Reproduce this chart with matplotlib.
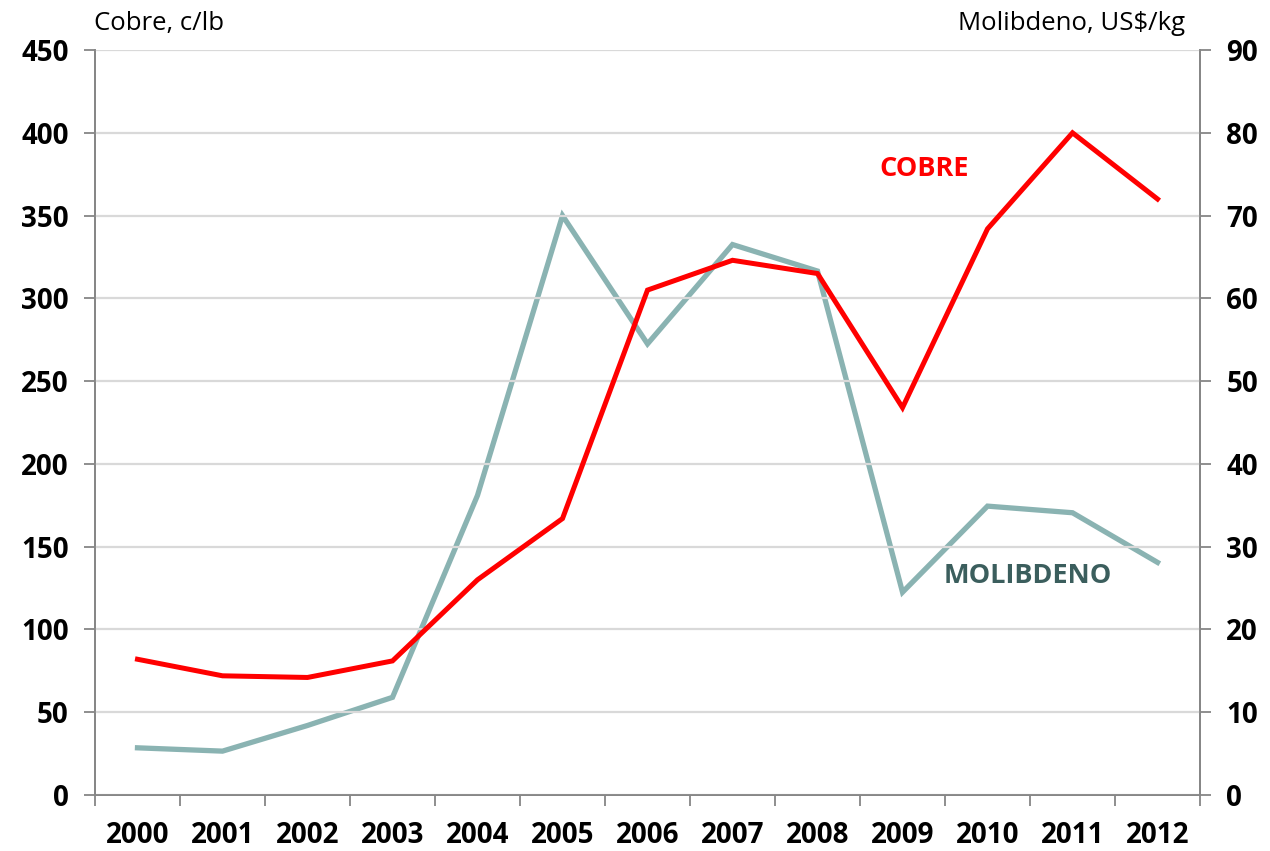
import matplotlib
matplotlib.use("Agg")
import matplotlib.pyplot as plt
import numpy as np

years = ["2000", "2001", "2002", "2003", "2004", "2005", "2006",
         "2007", "2008", "2009", "2010", "2011", "2012"]
cobre = [82, 72, 71, 81, 130, 167, 305, 323, 315, 234, 342, 400, 360]  # c/lb
molibdeno = [5.7, 5.3, 8.4, 11.8, 36.2, 70, 54.5, 66.5, 63.3, 24.5, 34.9, 34.1, 28.1]  # US$/kg

plt.rcParams["font.family"] = ["Open Sans", "DejaVu Sans"]

RED = "#ff0000"
TEAL = "#8ab3b2"
DARK_TEAL = "#3b5e5d"
AXIS = "#868686"
GRID = "#d9d9d9"

fig = plt.figure(figsize=(12.7, 8.51), dpi=100)
ax = fig.add_axes([0.0748, 0.0658, 0.8701, 0.8754])
ax2 = ax.twinx()

x = np.arange(len(years))

ax.set_xlim(-0.5, len(years) - 0.5)
ax.set_ylim(0, 450)
ax.set_yticks(range(0, 451, 50))
ax2.set_ylim(0, 90)
ax2.set_yticks(range(0, 91, 10))

ax.grid(axis="y", color=GRID, linewidth=1.6)
ax.set_axisbelow(True)

ax2.plot(x, molibdeno, color=TEAL, linewidth=3.8, solid_joinstyle="miter", zorder=2)
ax.plot(x, cobre, color=RED, linewidth=3.6, solid_joinstyle="miter", zorder=3)
ax.set_zorder(ax2.get_zorder() + 1)
ax.patch.set_visible(False)

# category axis: tick marks between categories, labels at centers
ax.set_xticks(np.arange(-0.5, len(years), 1.0))
ax.set_xticklabels([])
ax.set_xticks(x, minor=True)
ax.set_xticklabels(years, minor=True)
ax.tick_params(axis="x", which="major", length=8, width=1.3, color=AXIS, direction="out")
ax.tick_params(axis="x", which="minor", length=0, pad=19, labelsize=20)
for lab in ax.get_xticklabels(minor=True):
    lab.set_fontweight("bold")

ax.tick_params(axis="y", length=8, width=1.3, color=AXIS, labelsize=20, pad=11)
ax2.tick_params(axis="y", length=8, width=1.3, color=AXIS, labelsize=20, pad=11)
for lab in ax.get_yticklabels() + ax2.get_yticklabels():
    lab.set_fontweight("bold")

for a in (ax, ax2):
    a.spines["top"].set_visible(False)
    for side in ("left", "right", "bottom"):
        a.spines[side].set_color(AXIS)
        a.spines[side].set_linewidth(1.3)

fig.text(0.074, 0.958, "Cobre, c/lb", fontsize=18.5, ha="left", va="bottom")
fig.text(0.933, 0.958, "Molibdeno, US$/kg", fontsize=18.5, ha="right", va="bottom")

ax.text(9.25, 378, "COBRE", color=RED, fontsize=19.5, fontweight="bold",
        ha="center", va="center")
ax2.text(10.47, 26.4, "MOLIBDENO", color=DARK_TEAL, fontsize=19.5, fontweight="bold",
         ha="center", va="center")

fig.savefig("out.png", dpi=100)
